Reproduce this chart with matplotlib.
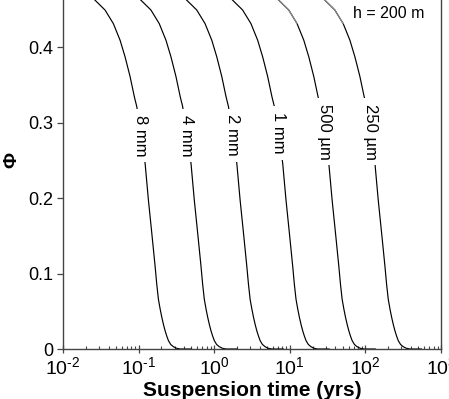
import numpy as np
import matplotlib
matplotlib.use('Agg')
import matplotlib.pyplot as plt

plt.rcParams.update({'font.family': ['Liberation Sans', 'DejaVu Sans'],
                     'mathtext.default': 'regular',
                     'axes.unicode_minus': False})

# shape of the 8 mm curve (log10 of years, Phi)
base_logt = [-1.70, -1.576, -1.444, -1.334, -1.245, -1.179, -1.113, -1.056, -1.024,
             -0.914, -0.870, -0.825, -0.781, -0.760, -0.738, -0.715, -0.693, -0.670,
             -0.649, -0.627, -0.605, -0.575, -0.539, -0.500, -0.450, -0.300]
base_phi = [0.475, 0.462, 0.449, 0.431, 0.409, 0.387, 0.361, 0.334, 0.321,
            0.246, 0.197, 0.153, 0.109, 0.086, 0.066, 0.053, 0.042, 0.032,
            0.024, 0.017, 0.011, 0.006, 0.003, 0.001, 0.0, 0.0]

# each grain size is the same curve shifted along the log time axis
sizes = ['8 mm', '4 mm', '2 mm', '1 mm', '500 µm', '250 µm']
shift_decades = [0.0, 0.607, 1.213, 1.820, 2.430, 3.040]
label_phi = [0.283, 0.283, 0.283, 0.286, 0.288, 0.288]
grey_top = [False, False, False, False, True, True]

yticks = [0, 0.1, 0.2, 0.3, 0.4, 0.5]
ytick_labels = ['0', '0.1', '0.2', '0.3', '0.4', '0.5']
xticks = [1e-2, 1e-1, 1e0, 1e1, 1e2, 1e3]
xtick_labels = ['$10^{\u20102}$', '$10^{\u20101}$', '$10^{0}$', '$10^{1}$', '$10^{2}$', '$10^{3}$']

fig = plt.figure(figsize=(4.49, 3.99), dpi=100)
ax = fig.add_axes([0.1403, 0.1253, 0.8419, 0.9461])

base_logt = np.array(base_logt)
base_phi = np.array(base_phi)

for size, sh, lp, grey in zip(sizes, shift_decades, label_phi, grey_top):
    t = 10 ** (base_logt + sh)
    ax.plot(t, base_phi, color='black', lw=0.85, zorder=2)
    if grey:
        top = base_phi >= 0.43
        ax.plot(t[top], base_phi[top], color='#8f8f8f', lw=0.85, zorder=2.5)
    # label sits on the curve, masking it
    xl = 10 ** np.interp(lp, base_phi[::-1], (base_logt + sh)[::-1])
    ax.text(xl, lp, size, rotation=-90, ha='center', va='center', fontsize=12,
            bbox=dict(boxstyle='square,pad=0.35', facecolor='white', edgecolor='none'),
            zorder=3)

ax.text(0.955, 0.890, 'h = 200 m', transform=ax.transAxes, ha='right', va='center',
        fontsize=11.5)

ax.set_xscale('log')
ax.set_xlim(1e-2, 1e3)
ax.set_ylim(0, 0.5)
ax.set_xticks(xticks)
ax.set_xticklabels(xtick_labels)
ax.set_yticks(yticks)
ax.set_yticklabels(ytick_labels)

for s in ax.spines.values():
    s.set_color('#444444')
    s.set_linewidth(1.0)

ax.tick_params(axis='y', direction='out', length=4.5, width=0.9, color='#444444',
               labelsize=13, pad=2.5)
ax.tick_params(axis='x', which='major', direction='inout', length=6, width=0.9,
               color='#444444', labelsize=14, pad=2.5)
ax.tick_params(axis='x', which='minor', direction='in', length=2.5, width=0.8,
               color='#444444')

ax.set_xlabel('Suspension time (yrs)', fontsize=15, fontweight='bold')
ax.xaxis.set_label_coords(0.5, -0.085)
ax.set_ylabel('Φ', fontsize=14, fontweight='bold')
ax.yaxis.set_label_coords(-0.112, 0.5)

fig.savefig('out.png', dpi=100)
